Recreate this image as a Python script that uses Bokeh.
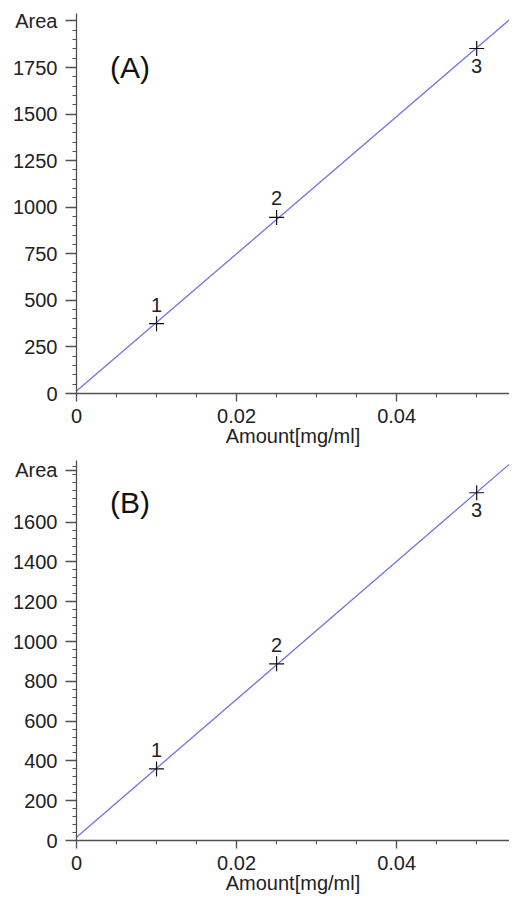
import numpy as np
from bokeh.plotting import figure
from bokeh.layouts import column
from bokeh.models import Label, FixedTicker, ColumnDataSource, Range1d
from bokeh.core.properties import value
from bokeh.embed import file_html
from bokeh.resources import INLINE

# ---- data ----
amount = [0.01, 0.025, 0.05]
point_labels = ["1", "2", "3"]
area_a = [375, 945, 1852]
area_b = [360, 888, 1748]
x_ticks = [0, 0.02, 0.04]
x_tick_labels = ["0", "0.02", "0.04"]
y_ticks_a = [0, 250, 500, 750, 1000, 1250, 1500, 1750, 2000]
y_tick_labels_a = ["0", "250", "500", "750", "1000", "1250", "1500", "1750", "Area"]
y_ticks_b = [0, 200, 400, 600, 800, 1000, 1200, 1400, 1600, 1860]
y_tick_labels_b = ["0", "200", "400", "600", "800", "1000", "1200", "1400", "1600", "Area"]
panel_titles = ["(A)", "(B)"]

FONT = "Liberation Sans"
AXIS_COL = "#505050"
LINE_COL = "#7373dd"
TXT = "#222222"
FS = "20px"

X_END = 0.0541


def make_panel(areas, yticks, ylabels, minor_step, ymax, title, title_y,
               height, top_border, bottom_border):
    p = figure(width=509, height=height,
               x_range=Range1d(0, X_END), y_range=Range1d(0, ymax),
               output_backend="svg", toolbar_location=None,
               min_border_left=76, min_border_right=0,
               min_border_top=top_border, min_border_bottom=bottom_border)
    p.outline_line_color = None
    p.grid.visible = False
    p.background_fill_color = "white"

    # regression line from the data
    slope, icpt = np.polyfit(amount, areas, 1)
    xs = [0, X_END]
    p.line(xs, [icpt + slope * x for x in xs], line_color=LINE_COL, line_width=1.3)

    src = ColumnDataSource(dict(x=amount, y=areas, t=point_labels))
    p.scatter("x", "y", source=src, marker="cross", size=15,
              line_color="#111111", line_width=1.2)
    above = ColumnDataSource(dict(x=amount[:2], y=areas[:2], t=point_labels[:2]))
    below = ColumnDataSource(dict(x=amount[2:], y=areas[2:], t=point_labels[2:]))
    p.text("x", "y", text="t", source=above, text_align="center",
           text_baseline="bottom", y_offset=-12, text_font=value(FONT),
           text_font_size=FS, text_color=TXT)
    p.text("x", "y", text="t", source=below, text_align="center",
           text_baseline="top", y_offset=10, text_font=value(FONT),
           text_font_size=FS, text_color=TXT)

    # axes
    for ax in (p.xaxis[0], p.yaxis[0]):
        ax.axis_line_color = AXIS_COL
        ax.axis_line_width = 1.3
        ax.major_tick_line_color = AXIS_COL
        ax.minor_tick_line_color = AXIS_COL
        ax.major_tick_line_width = 1.3
        ax.minor_tick_line_width = 1.1
        ax.major_label_text_font = FONT
        ax.major_label_text_font_size = FS
        ax.major_label_text_color = TXT
        ax.major_tick_in = 0
        ax.minor_tick_in = 0
    p.xaxis.ticker = FixedTicker(ticks=x_ticks,
                                 minor_ticks=[i * 0.005 for i in range(11)])
    p.xaxis.major_label_overrides = dict(zip(x_ticks, x_tick_labels))
    p.xaxis.major_tick_out = 8
    p.xaxis.minor_tick_out = 4
    p.xaxis.major_label_standoff = 7
    p.xaxis.axis_label = "Amount[mg/ml]"
    p.xaxis.axis_label_text_font = FONT
    p.xaxis.axis_label_text_font_style = "normal"
    p.xaxis.axis_label_text_font_size = FS
    p.xaxis.axis_label_text_color = TXT
    p.xaxis.axis_label_standoff = -1

    minor = [i * minor_step for i in range(int(ymax / minor_step) + 1)]
    p.yaxis.ticker = FixedTicker(ticks=yticks, minor_ticks=minor)
    p.yaxis.major_label_overrides = dict(zip(yticks, ylabels))
    p.yaxis.major_tick_out = 11
    p.yaxis.minor_tick_out = 4
    p.yaxis.major_label_standoff = 8

    p.add_layout(Label(x=0.0042, y=title_y, text=title, text_align="left",
                       text_baseline="middle", text_font=FONT,
                       text_font_size="30px", text_color="#111111"))
    return p


pa = make_panel(area_a, y_ticks_a, y_tick_labels_a, 50, 2040, panel_titles[0], 1750,
                453, 13, 60)
pb = make_panel(area_b, y_ticks_b, y_tick_labels_b, 40, 1910, panel_titles[1], 1700,
                447, 7, 60)

layout = column(pa, pb, spacing=0)
open("out.html", "w").write(file_html(layout, INLINE))
